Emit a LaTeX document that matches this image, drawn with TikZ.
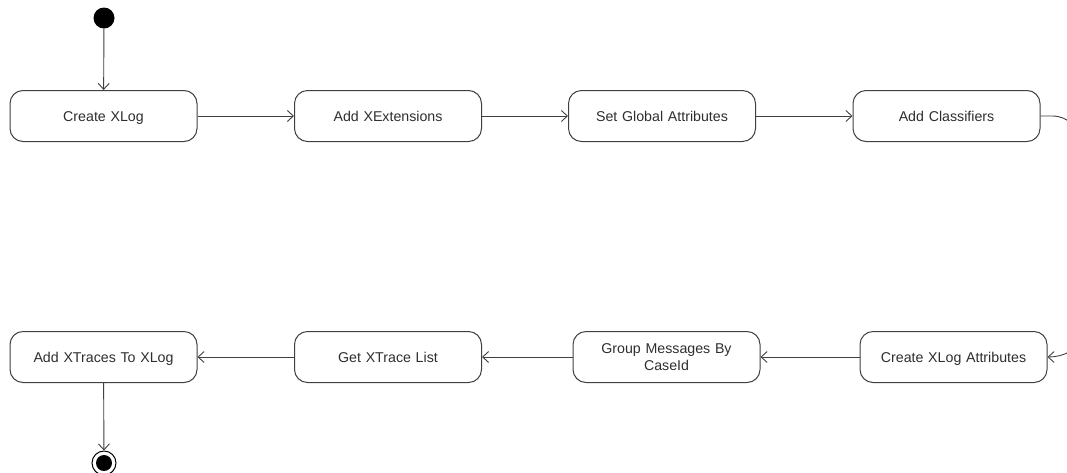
\documentclass[tikz,border=0pt]{standalone}
\usepackage{fontspec}
\setmainfont{Liberation Sans}
\usetikzlibrary{arrows.meta}
\definecolor{edge}{HTML}{404040}
\definecolor{ink}{HTML}{2E2E2E}
% balanced strut so cap letters sit on the node centre
\newcommand{\capstrut}{\rule[-3pt]{0pt}{16pt}}
\begin{document}
\begin{tikzpicture}[x=1pt,y=-1pt,
  act/.style={draw=edge,line width=1pt,fill=white,rounded corners=13pt,
    minimum width=187pt,minimum height=51pt,inner sep=2pt,align=center,
    font=\fontsize{14.2}{17}\selectfont,text=ink,text width=175pt,
    execute at begin node=\capstrut,execute at end node=\capstrut},
  flow/.style={draw=edge,line width=0.9pt,-{Straight Barb[length=6pt,width=11pt]}},
  startdot/.style={circle,fill=black,minimum size=21pt,inner sep=0pt},
  enddot/.style={circle,draw=black,line width=1pt,fill=white,minimum size=24pt,inner sep=0pt}]
\clip (0,0) rectangle (1067,472);
\fill[white] (0,0) rectangle (1067,472);
% upper row
\node[startdot] (init) at (104,18) {};
\node[act] (a1) at (103.5,116) {Create XLog};
\node[act] (a2) at (388,116) {Add XExtensions};
\node[act] (a3) at (662,116) {Set Global Attributes};
\node[act] (a4) at (946.5,116) {Add Classifiers};
% lower row
\node[act] (b4) at (953.5,357) {Create XLog Attributes};
\node[act] (b3) at (666.5,357) {Group Messages By\\CaseId};
\node[act] (b2) at (388,357) {Get XTrace List};
\node[act] (b1) at (103.5,357) {Add XTraces To XLog};
\node[enddot] (fin) at (104,463) {};
\fill (fin.center) circle (8pt);
% transitions
\draw[flow] (init) -- (a1);
\draw[flow] (a1) -- (a2);
\draw[flow] (a2) -- (a3);
\draw[flow] (a3) -- (a4);
\draw[flow] (a4.east) -- ++(12,0) to[out=0,in=90] ++(28,28) -- ++(0,190)
  to[out=-90,in=0] (b4.east);
\draw[flow] (b4) -- (b3);
\draw[flow] (b3) -- (b2);
\draw[flow] (b2) -- (b1);
\draw[flow] (b1) -- (fin);
\end{tikzpicture}
\end{document}
